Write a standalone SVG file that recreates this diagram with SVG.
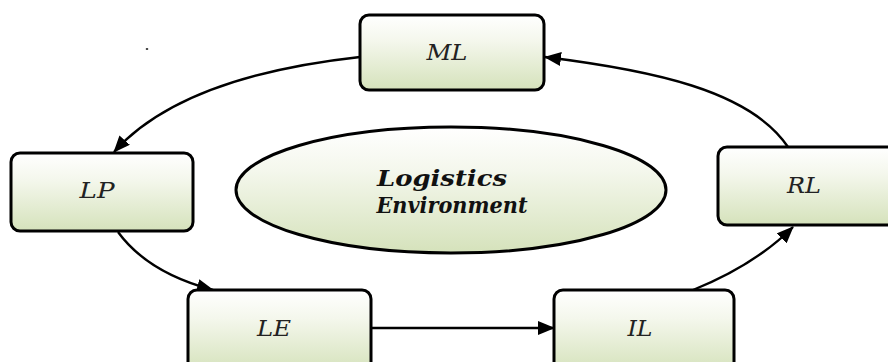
<svg xmlns="http://www.w3.org/2000/svg" width="888" height="362" viewBox="0 0 888 362">
<defs>
<linearGradient id="g" x1="0" y1="0" x2="0" y2="1">
<stop offset="0" stop-color="#ffffff"/>
<stop offset="0.35" stop-color="#f4f7ec"/>
<stop offset="1" stop-color="#d5e2bb"/>
</linearGradient>
<marker id="ah" markerUnits="userSpaceOnUse" markerWidth="17" markerHeight="14" refX="16" refY="7" orient="auto">
<path d="M0,0 L17,7 L0,14 z" fill="#000"/>
</marker>
<style>
.box{fill:url(#g);stroke:#000;stroke-width:3}
.lbl{font-family:"DejaVu Serif",serif;font-style:italic;font-size:23px;fill:#222;text-anchor:middle}
.big{font-family:"DejaVu Serif",serif;font-style:italic;font-weight:bold;font-size:23px;fill:#111;text-anchor:middle}
.con{fill:none;stroke:#000;stroke-width:2.4;marker-end:url(#ah)}
</style>
</defs>
<rect width="888" height="362" fill="#fff"/>
<ellipse cx="147" cy="49" rx="1.3" ry="1" fill="#333"/>
<g id="env">
<ellipse class="box" cx="451" cy="190" rx="215" ry="63"/>
<text class="big" x="442" y="186" textLength="130" lengthAdjust="spacingAndGlyphs">Logistics</text>
<text class="big" x="452" y="213" textLength="151" lengthAdjust="spacingAndGlyphs">Environment</text>
</g>
<g id="connectors">
<path class="con" d="M360,57 C260,68 165,95 114,152"/>
<path class="con" d="M118,232 C140,262 175,280 213,290"/>
<path class="con" d="M371,328 L554,328"/>
<path class="con" d="M693,290 C730,275 765,255 793,227"/>
<path class="con" d="M788,147 C750,90 650,70 545,57"/>
</g>
<g id="ML">
<rect class="box" x="360" y="15" width="184" height="75" rx="9"/>
<text class="lbl" x="447" y="60" textLength="41" lengthAdjust="spacingAndGlyphs">ML</text>
</g>
<g id="LP">
<rect class="box" x="11" y="153" width="182" height="78" rx="9"/>
<text class="lbl" x="97" y="198" textLength="35" lengthAdjust="spacingAndGlyphs">LP</text>
</g>
<g id="RL">
<rect class="box" x="718" y="147" width="180" height="78" rx="9"/>
<text class="lbl" x="804" y="193" textLength="34" lengthAdjust="spacingAndGlyphs">RL</text>
</g>
<g id="LE">
<rect class="box" x="188" y="290" width="183" height="82" rx="9"/>
<text class="lbl" x="274" y="336" textLength="34" lengthAdjust="spacingAndGlyphs">LE</text>
</g>
<g id="IL">
<rect class="box" x="554" y="290" width="180" height="82" rx="9"/>
<text class="lbl" x="640" y="336" textLength="25" lengthAdjust="spacingAndGlyphs">IL</text>
</g>
</svg>
